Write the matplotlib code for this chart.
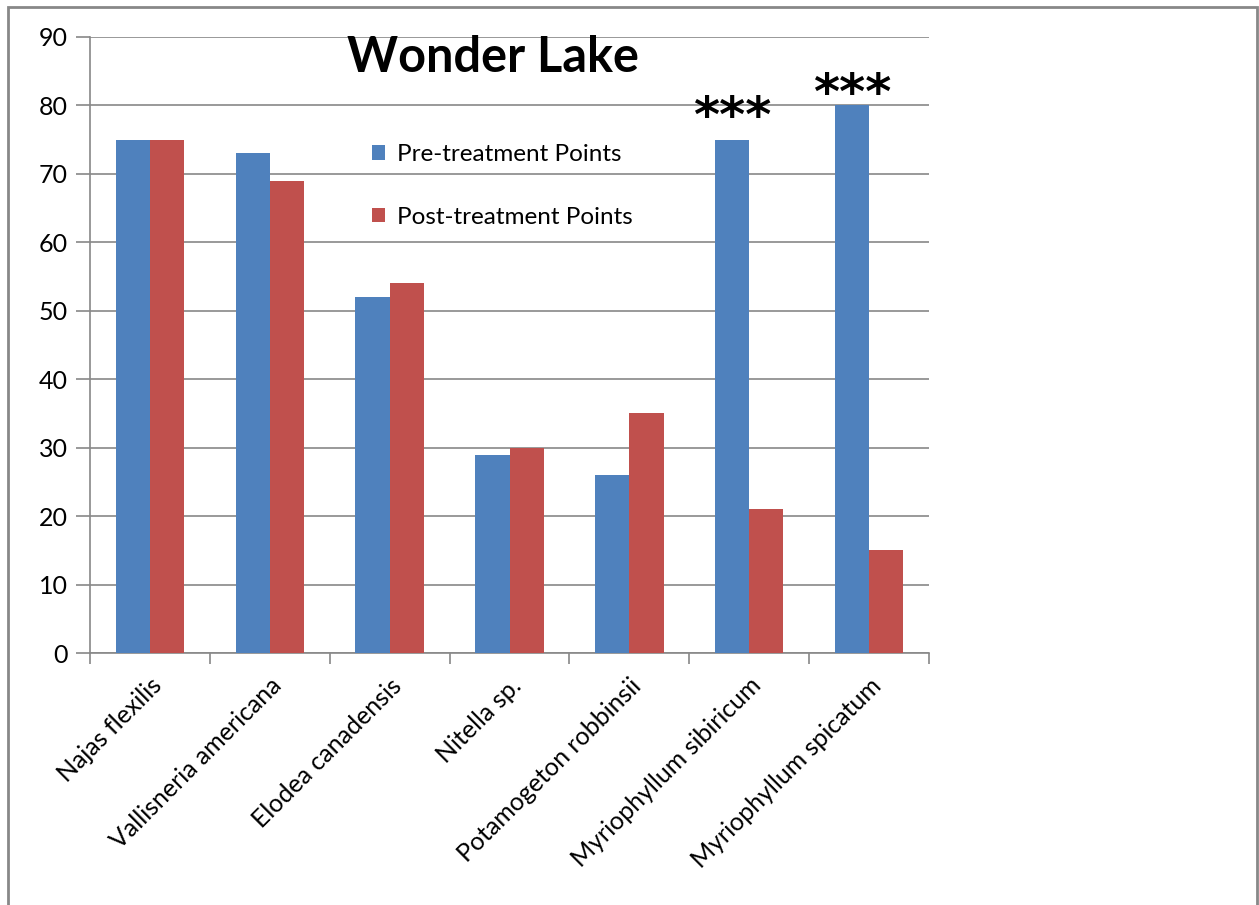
import matplotlib
matplotlib.use("Agg")
import matplotlib.pyplot as plt
from matplotlib.patches import Rectangle
import numpy as np

species = ["Najas flexilis", "Vallisneria americana", "Elodea canadensis",
           "Nitella sp.", "Potamogeton robbinsii", "Myriophyllum sibiricum",
           "Myriophyllum spicatum"]
pre_points = [75, 73, 52, 29, 26, 75, 80]
post_points = [75, 69, 54, 30, 35, 21, 15]
# significance marks sit above the pre-treatment bar
flagged = ["Myriophyllum sibiricum", "Myriophyllum spicatum"]
flag_gap = [3.2, 1.5]

plt.rcParams["font.family"] = ["Lato", "DejaVu Sans"]
grey = "#888888"

fig = plt.figure(figsize=(12.59, 9.05), dpi=100)
ax = fig.add_axes([90/1259, 1 - 653/905, 839/1259, 616/905])

x = np.arange(len(species))
w = 1 / 3.5
ax.bar(x - w/2, pre_points, w, color="#4F81BD", label="Pre-treatment Points", zorder=3)
ax.bar(x + w/2, post_points, w, color="#C0504D", label="Post-treatment Points", zorder=3)

for name, gap in zip(flagged, flag_gap):
    i = species.index(name)
    ax.text(x[i] - w/2, pre_points[i] + gap, "***", ha="center", va="center",
            fontsize=36, fontweight="bold", family="DejaVu Sans", zorder=4)

ax.set_xlim(-0.5, len(species) - 0.5)
ax.set_ylim(0, 90)
ax.set_yticks(range(0, 91, 10))
ax.yaxis.grid(True, color=grey, linewidth=1.2, zorder=0)
ax.tick_params(axis="y", length=10, width=1.2, color=grey, labelsize=18, pad=6)

ax.set_xticks(x)
ax.set_xticklabels(species, rotation=45, ha="right", va="top",
                   rotation_mode="anchor", fontsize=18)
ax.tick_params(axis="x", which="major", length=0, pad=15)
ax.set_xticks(np.arange(-0.5, len(species)), minor=True)
ax.tick_params(axis="x", which="minor", length=8, width=1.2, color=grey)

for side in ["top", "right"]:
    ax.spines[side].set_visible(False)
for side in ["left", "bottom"]:
    ax.spines[side].set_color(grey)
    ax.spines[side].set_linewidth(1.2)

ax.text(0.48, 0.967, "Wonder Lake", transform=ax.transAxes, ha="center",
        va="center", fontsize=35, fontweight="bold")

ax.legend(loc="upper left", bbox_to_anchor=(0.31, 0.862), frameon=False,
          fontsize=17.5, labelspacing=1.72, handlelength=0.55, handleheight=0.55,
          handletextpad=0.5)

fig.patches.append(Rectangle((8/1259, -0.05), 1249/1259, 1.05 - 7/905,
                             transform=fig.transFigure, fill=False,
                             edgecolor=grey, linewidth=2))

fig.savefig("out.png", dpi=100)
